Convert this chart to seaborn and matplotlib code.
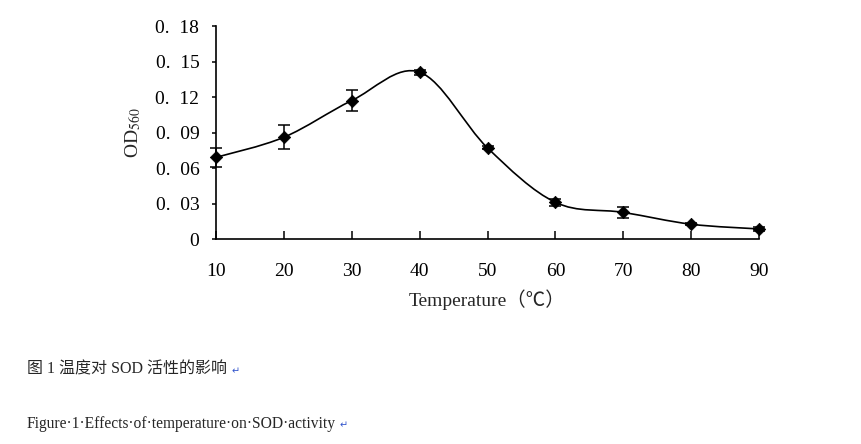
import seaborn as sns
import matplotlib.pyplot as plt
import numpy as np
from matplotlib.path import Path
from matplotlib.patches import PathPatch

# values
temps = [10, 20, 30, 40, 50, 60, 70, 80, 90]
od560 = [0.069, 0.086, 0.117, 0.141, 0.077, 0.031, 0.0225, 0.0125, 0.0085]
od_err = [0.008, 0.010, 0.009, 0.002, 0.0012, 0.003, 0.0045, 0.001, 0.0015]
yticks = [0, 0.03, 0.06, 0.09, 0.12, 0.15, 0.18]
ytick_labels = ['0', '0.  03', '0.  06', '0.  09', '0.  12', '0.  15', '0.  18']

sns.set_style('white')
plt.rcParams['font.family'] = ['Liberation Serif', 'Noto Sans CJK SC', 'DejaVu Sans']
plt.rcParams['mathtext.fontset'] = 'stix'

fig = plt.figure(figsize=(8.62, 4.44), dpi=100)
ax = fig.add_axes([0.2506, 0.4617, 0.6299, 0.4797])

# smoothed line like a spreadsheet "smooth line" (bezier through the points)
x = np.array(temps, dtype=float)
y = np.array(od560)
verts = [(x[0], y[0])]
codes = [Path.MOVETO]
for i in range(len(x) - 1):
    p0 = np.array([x[max(i - 1, 0)], y[max(i - 1, 0)]])
    p1 = np.array([x[i], y[i]])
    p2 = np.array([x[i + 1], y[i + 1]])
    p3 = np.array([x[min(i + 2, len(x) - 1)], y[min(i + 2, len(x) - 1)]])
    c1 = p1 + (p2 - p0) / 6
    c2 = p2 - (p3 - p1) / 6
    verts += [tuple(c1), tuple(c2), tuple(p2)]
    codes += [Path.CURVE4] * 3
ax.add_patch(PathPatch(Path(verts, codes), fill=False, edgecolor='black', lw=1.2, clip_on=False))

ax.errorbar(temps, od560, yerr=od_err, fmt='none', ecolor='black', elinewidth=1.1,
            capsize=4.5, capthick=1.1, clip_on=False, zorder=3)
sns.scatterplot(x=temps, y=od560, marker='D', color='black', s=40, edgecolor='black',
                ax=ax, zorder=4, clip_on=False)

ax.set_xlim(10, 90)
ax.set_ylim(0, 0.18)
ax.set_xticks(temps)
ax.set_yticks(yticks)
ax.set_yticklabels(ytick_labels)
sns.despine(ax=ax)
for s in ['left', 'bottom']:
    ax.spines[s].set_color('black')
    ax.spines[s].set_linewidth(1.2)
ax.tick_params(axis='x', bottom=True, direction='in', length=5.5, width=1.1, pad=17,
               labelsize=14, colors='black')
ax.tick_params(axis='y', left=True, direction='out', length=3, width=1.1, pad=9,
               labelsize=14, colors='black')

ax.set_xlabel('Temperature（℃）', fontsize=14, labelpad=7)
ax.set_ylabel(r'OD$_{560}$', fontsize=14, labelpad=9)

fig.text(0.031, 0.167, '图 1 温度对 SOD 活性的影响', fontsize=11.5, va='center',
         family=['Liberation Serif', 'Noto Sans CJK SC'])
fig.text(0.268, 0.164, '↵', fontsize=7, color='#3355cc', va='center', family='DejaVu Sans')
fig.text(0.031, 0.045, 'Figure·1·Effects·of·temperature·on·SOD·activity', fontsize=11.2,
         va='center')
fig.text(0.394, 0.042, '↵', fontsize=7, color='#3355cc', va='center', family='DejaVu Sans')

fig.savefig('out.png', dpi=100)
